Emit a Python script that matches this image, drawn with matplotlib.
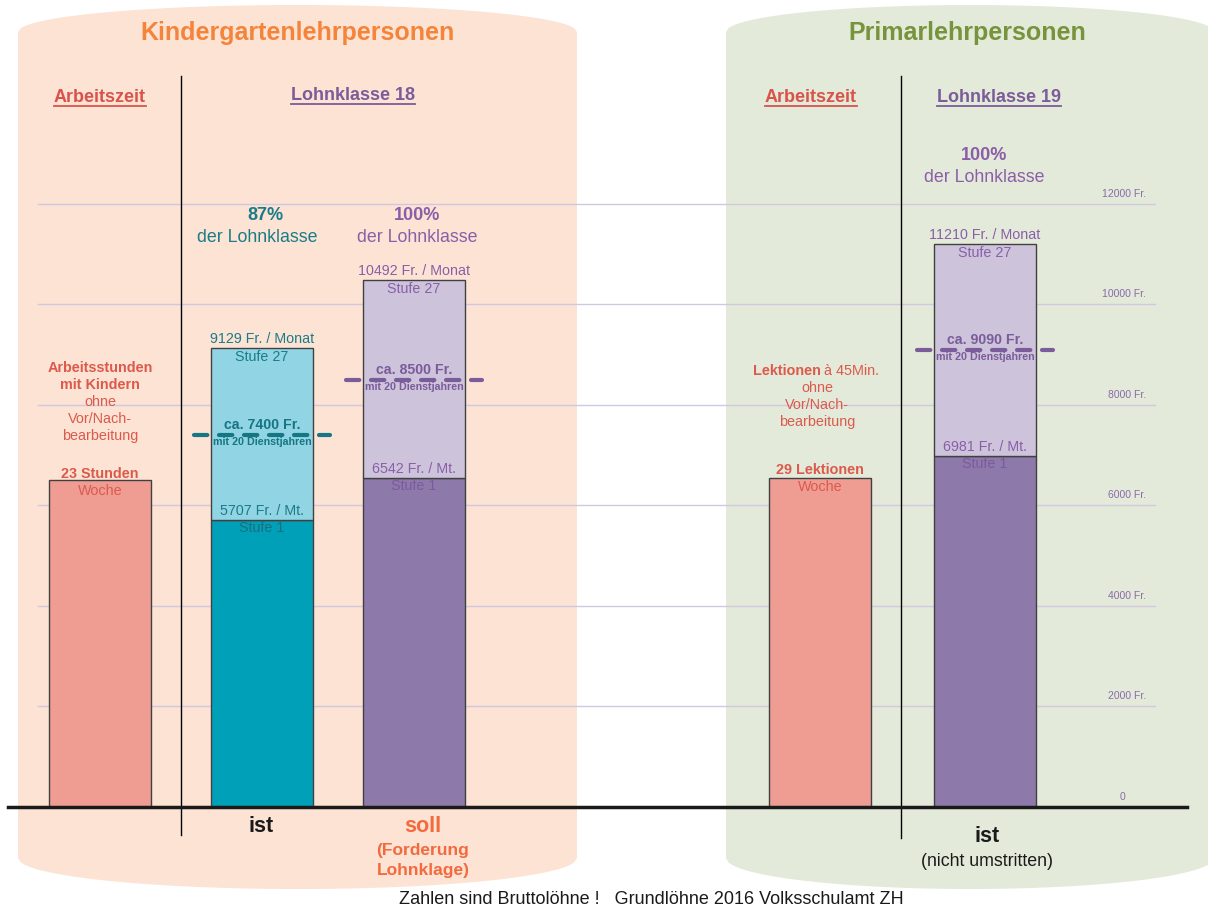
import matplotlib.pyplot as plt
from matplotlib.patches import Polygon
import numpy as np

plt.rcParams['font.family'] = ['Liberation Sans', 'DejaVu Sans']

# --- Daten ---
gitter = [2000, 4000, 6000, 8000, 10000, 12000]
gitter_labels = ['2000 Fr.', '4000 Fr.', '6000 Fr.', '8000 Fr.', '10000 Fr.', '12000 Fr.']

kg_gruppen = ['ist', 'soll']
kg_stufe1 = [5707, 6542]
kg_stufe27 = [9129, 10492]
kg_20j = [7400, 8500]
kg_prozent = ['87%', '100%']

pr_stufe1 = 6981
pr_stufe27 = 11210
pr_20j = 9090

arbeitszeit_hoehe = [6500, 6540]   # KG, Primar (Balkenhoehe im Diagramm)
arbeitszeit_text = ['23 Stunden', '29 Lektionen']

# --- Farben ---
c_peach = '#fce3d4'
c_green = '#e3ead9'
c_salmon = '#ef9d93'
c_teal = '#00a0b9'
c_teal_l = '#91d5e5'
c_lila = '#8e7aaa'
c_lila_l = '#cdc4dc'
t_teal = '#1a7c88'
t_lila = '#8a5ea8'
t_red = '#d9534a'
c_grid = '#cfc8e0'

S = 19.9       # Fr. pro Pixel
BASE = 807     # Pixelzeile der Nulllinie


def py(y):
    return (BASE - np.asarray(y, dtype=float)) * S


fig = plt.figure(figsize=(12.08, 9.10), dpi=100)
ax = fig.add_axes([0, 0, 1, 1])
ax.set_xlim(0, 1208)
ax.set_ylim(py(910), py(0))
ax.axis('off')


def kapsel(x0, x1, ytc, yte, ybc, ybe, color):
    xs = np.linspace(x0, x1, 200)
    a = (x1 - x0) / 2
    xc = (x0 + x1) / 2
    t = np.sqrt(np.clip(1 - ((xs - xc) / a) ** 2, 0, 1))
    top = yte - (yte - ytc) * t
    bot = ybe + (ybc - ybe) * t
    pts = np.column_stack([np.r_[xs, xs[::-1]], np.r_[py(top), py(bot[::-1])]])
    ax.add_patch(Polygon(pts, closed=True, fc=color, ec='none', zorder=0))


kapsel(18, 577, 5, 32, 889, 858, c_peach)
kapsel(726, 1214, 5, 32, 889, 858, c_green)

# Gitterlinien
for g, lab in zip(gitter, gitter_labels):
    ax.plot([38, 1155], [g, g], color=c_grid, lw=1, zorder=1)
    ax.text(1146, g + 10 * S, lab, ha='right', va='center', fontsize=7.5, color='#8a6aaa', zorder=4)
ax.text(1123, 10 * S, '0', ha='center', va='center', fontsize=7.5, color='#8a6aaa', zorder=4)

# Trennlinien
ax.plot([181, 181], py([76, 835]), color='black', lw=1, zorder=1)
ax.plot([901, 901], py([76, 838]), color='black', lw=1, zorder=1)

# Balken
bw = 102
ax.bar([99.5, 820], arbeitszeit_hoehe, width=bw, color=c_salmon, ec='#404040', lw=1, zorder=2)

kg_x = [262, 414]
kg_cols = [(c_teal, c_teal_l), (c_lila, c_lila_l)]
for i in range(2):
    ax.bar(kg_x[i], kg_stufe1[i], width=bw, color=kg_cols[i][0], ec='#404040', lw=1, zorder=2)
    ax.bar(kg_x[i], kg_stufe27[i] - kg_stufe1[i], bottom=kg_stufe1[i], width=bw,
           color=kg_cols[i][1], ec='#404040', lw=1, zorder=2)

ax.bar(985, pr_stufe1, width=bw, color=c_lila, ec='#404040', lw=1, zorder=2)
ax.bar(985, pr_stufe27 - pr_stufe1, bottom=pr_stufe1, width=bw, color=c_lila_l,
       ec='#404040', lw=1, zorder=2)

# Nulllinie
ax.plot([8, 1187], [0, 0], color='#1a1a1a', lw=2.5, zorder=3)


def balken_text(x, s1, s27, j20, tc, sc, dcol):
    ax.text(x, s27 + 9 * S, f'{s27} Fr. / Monat', ha='center', va='center', fontsize=10.3, color=tc, zorder=4)
    ax.text(x, s27 - 9 * S, 'Stufe 27', ha='center', va='center', fontsize=10.3, color=tc, zorder=4)
    ax.text(x, s1 + 9 * S, f'{s1} Fr. / Mt.', ha='center', va='center', fontsize=10.3, color=tc, zorder=4)
    ax.text(x, s1 - 8 * S, 'Stufe 1', ha='center', va='center', fontsize=10.3, color=sc, zorder=4)
    ax.plot([x - 68, x + 68], [j20, j20], color=dcol, lw=3, dashes=(3.2, 2.8),
            dash_capstyle='round', zorder=3)
    ax.text(x, j20 + 10 * S, f'ca. {j20} Fr.', ha='center', va='center', fontsize=10.2,
            fontweight='bold', color=dcol, zorder=4)
    ax.text(x, j20 - 7 * S, 'mit 20 Dienstjahren', ha='center', va='center', fontsize=7.7,
            fontweight='bold', color=dcol, zorder=4)


balken_text(kg_x[0], kg_stufe1[0], kg_stufe27[0], kg_20j[0], t_teal, '#1b6f7d', '#167683')
balken_text(kg_x[1], kg_stufe1[1], kg_stufe27[1], kg_20j[1], t_lila, '#7c5aa0', '#7b5c9a')
balken_text(985, pr_stufe1, pr_stufe27, pr_20j, t_lila, '#7c5aa0', '#7b5c9a')

# Prozent-Texte
for x, p, c, y in [(265, kg_prozent[0], t_teal, 215), (417, kg_prozent[1], t_lila, 215), (984, '100%', t_lila, 156)]:
    ax.text(x, py(y), p, ha='center', va='center', fontsize=13, fontweight='bold', color=c, zorder=4)
    ax.text(x - 8 if c == t_teal else x, py(y + 22), 'der Lohnklasse', ha='center', va='center',
            fontsize=12.8, color=c, zorder=4)

# Titel
ax.text(297, py(33), 'Kindergartenlehrpersonen', ha='center', va='center', fontsize=18,
        fontweight='bold', color='#f5843b', zorder=4)
ax.text(967, py(33), 'Primarlehrpersonen', ha='center', va='center', fontsize=18,
        fontweight='bold', color='#77933c', zorder=4)

# unterstrichene Kopfzeilen
heads = [(100, 'Arbeitszeit', t_red, 98), (353, 'Lohnklasse 18', '#7b5c9a', 96),
         (811, 'Arbeitszeit', t_red, 98), (999, 'Lohnklasse 19', '#7b5c9a', 98)]
htexts = []
for x, s, c, y in heads:
    htexts.append(ax.text(x, py(y), s, ha='center', va='center', fontsize=13, fontweight='bold',
                          color=c, zorder=4))
fig.canvas.draw()
inv = ax.transData.inverted()
for t, (x, s, c, y) in zip(htexts, heads):
    bb = t.get_window_extent()
    (x0, y0), (x1, y1) = inv.transform([[bb.x0, bb.y0], [bb.x1, bb.y1]])
    ax.plot([x0, x1], [y0 + 1 * S, y0 + 1 * S], color=c, lw=1.3, zorder=4)

# Arbeitszeit-Texte KG
kg_lines = [('Arbeitsstunden', 'bold', 368), ('mit Kindern', 'bold', 385), ('ohne', 'normal', 402),
            ('Vor/Nach-', 'normal', 419), ('bearbeitung', 'normal', 436)]
for s, w, y in kg_lines:
    ax.text(100, py(y), s, ha='center', va='center', fontsize=10.4, fontweight=w, color='#dc5a4c', zorder=4)
ax.text(100, arbeitszeit_hoehe[0] + 6 * S, arbeitszeit_text[0], ha='center', va='center', fontsize=10.4,
        fontweight='bold', color='#dc5a4c', zorder=4)
ax.text(100, arbeitszeit_hoehe[0] - 11 * S, 'Woche', ha='center', va='center', fontsize=10.4,
        color='#dc5a4c', zorder=4)

# Arbeitszeit-Texte Primar
ax.text(821, py(371), 'Lektionen', ha='right', va='center', fontsize=10.4, fontweight='bold',
        color='#dc5a4c', zorder=4)
ax.text(824, py(371), 'à 45Min.', ha='left', va='center', fontsize=10.4, color='#dc5a4c', zorder=4)
for s, y in [('ohne', 388), ('Vor/Nach-', 405), ('bearbeitung', 422)]:
    ax.text(817, py(y), s, ha='center', va='center', fontsize=10.4, color='#dc5a4c', zorder=4)
ax.text(820, arbeitszeit_hoehe[1] + 8 * S, arbeitszeit_text[1], ha='center', va='center', fontsize=10.4,
        fontweight='bold', color='#dc5a4c', zorder=4)
ax.text(820, arbeitszeit_hoehe[1] - 9 * S, 'Woche', ha='center', va='center', fontsize=10.4,
        color='#dc5a4c', zorder=4)

# untere Beschriftungen
ax.text(261, py(827), kg_gruppen[0], ha='center', va='center', fontsize=15.5, fontweight='bold',
        color='#1a1a1a', zorder=4)
ax.text(423, py(826), kg_gruppen[1], ha='center', va='center', fontsize=15.5, fontweight='bold',
        color='#f26a3d', zorder=4)
ax.text(423, py(850), '(Forderung', ha='center', va='center', fontsize=12.5, fontweight='bold',
        color='#f26a3d', zorder=4)
ax.text(423, py(871), 'Lohnklage)', ha='center', va='center', fontsize=12.5, fontweight='bold',
        color='#f26a3d', zorder=4)
ax.text(987, py(837), 'ist', ha='center', va='center', fontsize=15.5, fontweight='bold',
        color='#1a1a1a', zorder=4)
ax.text(987, py(862), '(nicht umstritten)', ha='center', va='center', fontsize=12.8,
        color='#1a1a1a', zorder=4)

ax.text(651, py(899), 'Zahlen sind Bruttolöhne !   Grundlöhne 2016 Volksschulamt ZH', ha='center',
        va='center', fontsize=13, color='#1a1a1a', zorder=4)

fig.savefig('out.png', dpi=100)
